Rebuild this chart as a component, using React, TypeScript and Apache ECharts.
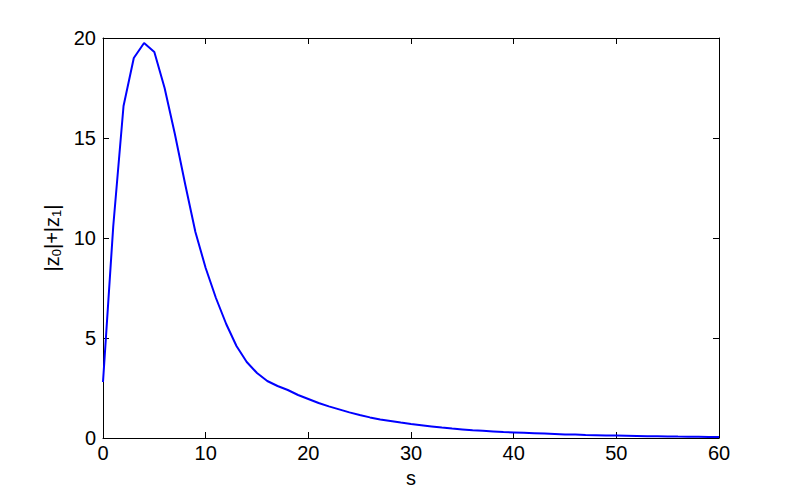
import React, { useEffect, useRef } from "react";
import * as echarts from "echarts";

const sValues: number[] = Array.from({ length: 61 }, (_, i) => i);
const zSum: number[] = [
  2.8, 10.6, 16.6, 19.0, 19.75, 19.3, 17.5, 15.2, 12.7, 10.3,
  8.5, 7.0, 5.7, 4.6, 3.8, 3.25, 2.85, 2.6, 2.4, 2.15,
  1.95, 1.75, 1.58, 1.43, 1.28, 1.15, 1.03, 0.93, 0.85, 0.77,
  0.7, 0.64, 0.58, 0.52, 0.47, 0.43, 0.39, 0.36, 0.33, 0.3,
  0.28, 0.26, 0.24, 0.22, 0.2, 0.18, 0.17, 0.15, 0.14, 0.13,
  0.12, 0.11, 0.1, 0.09, 0.085, 0.08, 0.07, 0.065, 0.06, 0.055,
  0.05,
];

const FONT = "Liberation Sans, Arial, Helvetica, sans-serif";

export default function App() {
  const ref = useRef<HTMLDivElement>(null);
  useEffect(() => {
    if (!ref.current) return;
    const chart = echarts.init(ref.current, null, { renderer: "svg" });
    const axisCommon = {
      type: "value" as const,
      axisLine: { show: true, onZero: false, lineStyle: { color: "#000", width: 1 } },
      axisTick: { show: true, inside: true, length: 6, lineStyle: { color: "#000" } },
      splitLine: { show: false },
    };
    chart.setOption({
      animation: false,
      backgroundColor: "#fff",
      grid: { left: 103, right: 76, top: 38, bottom: 55, containLabel: false },
      xAxis: [
        {
          ...axisCommon,
          min: 0,
          max: 60,
          interval: 10,
          position: "bottom",
          axisLabel: { color: "#000", fontSize: 20, fontFamily: FONT, margin: 5 },
          name: "s",
          nameLocation: "middle",
          nameGap: 27,
          nameTextStyle: { color: "#000", fontSize: 20, fontFamily: FONT },
        },
        {
          ...axisCommon,
          min: 0,
          max: 60,
          interval: 10,
          position: "top",
          axisLabel: { show: false },
        },
      ],
      yAxis: [
        {
          ...axisCommon,
          min: 0,
          max: 20,
          interval: 5,
          position: "left",
          axisLabel: { color: "#000", fontSize: 20, fontFamily: FONT, margin: 7 },
          name: "|z{sub|0}|+|z{sub|1}|",
          nameLocation: "middle",
          nameGap: 38,
          nameRotate: 90,
          nameTextStyle: {
            color: "#000",
            fontSize: 20,
            fontFamily: FONT,
            rich: {
              sub: { fontSize: 13, fontFamily: FONT, color: "#000", padding: [9, 0, 0, 0] },
            },
          },
        },
        {
          ...axisCommon,
          min: 0,
          max: 20,
          interval: 5,
          position: "right",
          axisLabel: { show: false },
        },
      ],
      series: [
        {
          type: "line",
          xAxisIndex: 0,
          yAxisIndex: 0,
          data: sValues.map((s, i) => [s, zSum[i]]),
          showSymbol: false,
          smooth: false,
          lineStyle: { color: "#0000ff", width: 2 },
          itemStyle: { color: "#0000ff" },
        },
      ],
    });
    return () => chart.dispose();
  }, []);
  return <div ref={ref} style={{ width: 795, height: 493, position: "absolute", left: 0, top: 0 }} />;
}
